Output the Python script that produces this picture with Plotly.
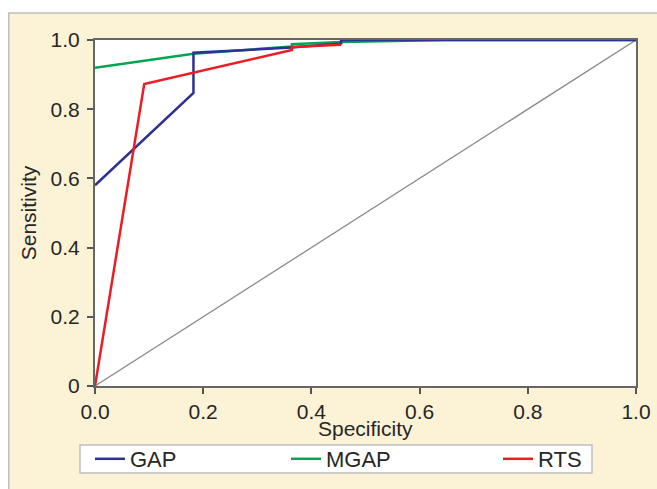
import plotly.graph_objects as go

# Data
gap_x = [0.0, 0.182, 0.182, 0.364, 0.455, 0.455, 1.0]
gap_y = [0.58, 0.847, 0.963, 0.978, 0.99, 1.0, 1.0]

mgap_x = [0.0, 0.182, 0.364, 0.364, 0.455, 0.65, 1.0]
mgap_y = [0.92, 0.96, 0.981, 0.988, 0.994, 1.0, 1.0]

rts_x = [0.0, 0.091, 0.364, 0.364, 0.455]
rts_y = [0.0, 0.873, 0.971, 0.98, 0.986]

diag_x = [0.0, 1.0]
diag_y = [0.0, 1.0]

x_ticks = [0.0, 0.2, 0.4, 0.6, 0.8, 1.0]
x_ticktext = ["0.0", "0.2", "0.4", "0.6", "0.8", "1.0"]
y_ticks = [0.0, 0.2, 0.4, 0.6, 0.8, 1.0]
y_ticktext = ["0", "0.2", "0.4", "0.6", "0.8", "1.0"]
x_title = "Specificity"
y_title = "Sensitivity"

FONT = "Liberation Sans, Arial, sans-serif"
TXT = "#262626"
W, H = 657, 489
# plot area in page pixels: x 95..636, y 40..386
L, R, T, B = 95, 657 - 636, 40, 489 - 386
PW, PH = 636 - 95, 386 - 40

fig = go.Figure()
fig.add_trace(go.Scatter(x=diag_x, y=diag_y, mode="lines",
                         line=dict(color="#8a8a8a", width=1.3),
                         showlegend=False, hoverinfo="skip"))
fig.add_trace(go.Scatter(x=mgap_x, y=mgap_y, mode="lines", name="MGAP",
                         line=dict(color="#00A651", width=2.5), legend="legend2"))
fig.add_trace(go.Scatter(x=gap_x, y=gap_y, mode="lines", name="GAP",
                         line=dict(color="#2E3192", width=2.5), legend="legend"))
fig.add_trace(go.Scatter(x=rts_x, y=rts_y, mode="lines", name="RTS",
                         line=dict(color="#ED1C24", width=2.5), legend="legend3"))


def px_x(p):
    return (p - 95) / PW


def px_y(p):
    return (386 - p) / PH


leg_common = dict(orientation="h", bgcolor="rgba(0,0,0,0)", borderwidth=0,
                  font=dict(family=FONT, size=22, color=TXT),
                  yanchor="middle", y=px_y(459), xanchor="left",
                  tracegroupgap=0, itemwidth=30)

fig.update_layout(
    width=W, height=H,
    margin=dict(l=L, r=R, t=T, b=B, autoexpand=False),
    paper_bgcolor="white",
    plot_bgcolor="white",
    font=dict(family=FONT, size=21, color=TXT),
    legend=dict(leg_common, x=px_x(90)),
    legend2=dict(leg_common, x=px_x(286)),
    legend3=dict(leg_common, x=px_x(498)),
    xaxis=dict(range=[0, 1], tickvals=x_ticks, ticktext=x_ticktext,
               ticks="outside", ticklen=6, tickwidth=1.5, tickcolor="#555",
               showline=True, linecolor="#666", linewidth=2, mirror=True,
               showgrid=False, zeroline=False,
               tickfont=dict(size=21)),
    yaxis=dict(range=[0, 1], tickvals=y_ticks, ticktext=y_ticktext,
               ticks="outside", ticklen=6, tickwidth=1.5, tickcolor="#555",
               showline=True, linecolor="#666", linewidth=2, mirror=True,
               showgrid=False, zeroline=False, ticklabelstandoff=3,
               title=dict(text=y_title, standoff=8,
                          font=dict(size=21)),
               tickfont=dict(size=21)),
    annotations=[
        dict(text=x_title, xref="paper", yref="paper", x=0.5, y=px_y(428),
             xanchor="center", yanchor="middle", showarrow=False,
             font=dict(family=FONT, size=21, color=TXT)),
    ],
    shapes=[
        # cream background panel
        dict(type="rect", xref="paper", yref="paper",
             x0=px_x(8.8), x1=px_x(680), y0=px_y(510), y1=px_y(13),
             fillcolor="#FCF2D6", line=dict(color="#BDBDBD", width=1.5),
             layer="below"),
        # white plotting area
        dict(type="rect", xref="paper", yref="paper",
             x0=0, x1=1, y0=0, y1=1,
             fillcolor="white", line=dict(width=0),
             layer="below"),
        # legend box
        dict(type="rect", xref="paper", yref="paper",
             x0=px_x(80), x1=px_x(592), y0=px_y(473), y1=px_y(445),
             fillcolor="white", line=dict(color="#BDBDBD", width=1.5),
             layer="above"),
    ],
)

fig.write_html(
    "out.html",
    config={"displayModeBar": False},
    post_script="document.body.style.margin='0';document.body.style.overflow='hidden';",
)
